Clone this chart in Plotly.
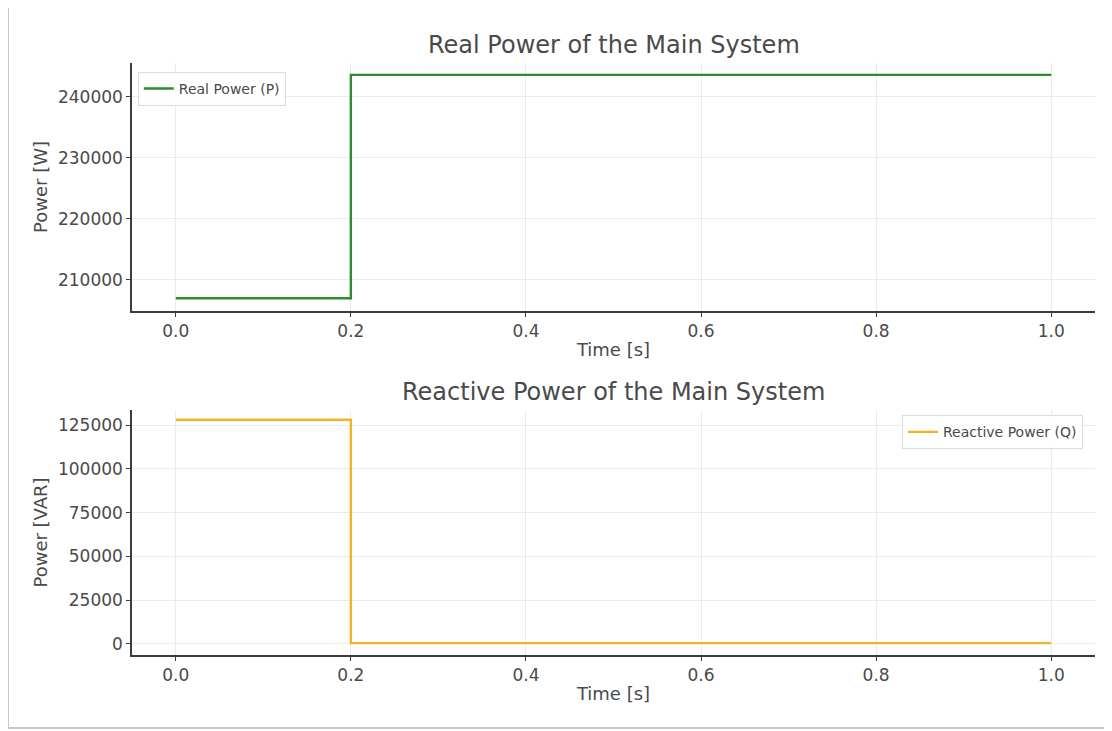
import plotly.graph_objects as go

# Data
time_s = [0.0, 0.2, 1.0]
real_power_w = [207000, 243600, 243600]
reactive_power_var = [128000, 500, 500]
x_ticks = [0.0, 0.2, 0.4, 0.6, 0.8, 1.0]
x_tick_labels = ["0.0", "0.2", "0.4", "0.6", "0.8", "1.0"]
p_ticks = [210000, 220000, 230000, 240000]
q_ticks = [0, 25000, 50000, 75000, 100000, 125000]

FONT = "DejaVu Sans"
TXT = "#4a4a4a"
GRID = "#ebebeb"
SPINE = "#3c3c3c"

fig = go.Figure()
fig.add_trace(go.Scatter(x=time_s, y=real_power_w, mode="lines", line_shape="hv",
                         line=dict(color="#2e8b2e", width=2.4), name="Real Power (P)",
                         xaxis="x", yaxis="y", legend="legend", showlegend=True))
fig.add_trace(go.Scatter(x=time_s, y=reactive_power_var, mode="lines", line_shape="hv",
                         line=dict(color="#f4b324", width=2.4), name="Reactive Power (Q)",
                         xaxis="x2", yaxis="y2", legend="legend2", showlegend=True))

ax_common = dict(showline=True, linecolor=SPINE, linewidth=1.5, ticks="outside",
                 ticklen=4, tickcolor=SPINE, tickwidth=1, showgrid=True, gridcolor=GRID,
                 gridwidth=1, zeroline=False, tickfont=dict(family=FONT, size=17, color=TXT),
                 mirror=False)

title_font = dict(family=FONT, size=18, color=TXT)

fig.update_layout(
    width=1112, height=731,
    margin=dict(l=124, r=25, t=55, b=84),
    paper_bgcolor="white", plot_bgcolor="white",
    font=dict(family=FONT, color=TXT),
    showlegend=True,
    xaxis=dict(domain=[0, 1], anchor="y", range=[-0.05, 1.05], tickvals=x_ticks,
               ticktext=x_tick_labels,
               title=dict(text="Time [s]", font=title_font, standoff=3),
               **ax_common),
    yaxis=dict(domain=[0.581, 1.0], anchor="x", range=[204900, 245550], tickvals=p_ticks,
               tickformat="d",
               title=dict(text="Power [W]", font=title_font, standoff=6),
               **ax_common),
    xaxis2=dict(domain=[0, 1], anchor="y2", range=[-0.05, 1.05], tickvals=x_ticks,
                ticktext=x_tick_labels,
                title=dict(text="Time [s]", font=title_font, standoff=3),
                **ax_common),
    yaxis2=dict(domain=[0.0, 0.4139], anchor="x2", range=[-6300, 133600], tickvals=q_ticks,
                tickformat="d",
                title=dict(text="Power [VAR]", font=title_font, standoff=6),
                **ax_common),
    legend=dict(x=0.006, y=0.985, xanchor="left", yanchor="top",
                bgcolor="rgba(255,255,255,0.85)", bordercolor="#dcdcdc", borderwidth=1,
                font=dict(family=FONT, size=14, color=TXT)),
    legend2=dict(x=0.9875, y=0.405, xanchor="right", yanchor="top",
                 bgcolor="rgba(255,255,255,0.85)", bordercolor="#dcdcdc", borderwidth=1,
                 font=dict(family=FONT, size=14, color=TXT)),
    annotations=[
        dict(text="Real Power of the Main System", xref="paper", yref="paper",
             x=0.5, y=1.030, xanchor="center", yanchor="middle", showarrow=False,
             font=dict(family=FONT, size=24, color=TXT)),
        dict(text="Reactive Power of the Main System", xref="paper", yref="paper",
             x=0.5, y=0.444, xanchor="center", yanchor="middle", showarrow=False,
             font=dict(family=FONT, size=24, color=TXT)),
    ],
    shapes=[
        dict(type="rect", xref="paper", yref="paper", x0=-0.1288, x1=1.02, y0=-0.1233, y1=1.0946,
             line=dict(color="#c8c8c8", width=2), fillcolor="rgba(0,0,0,0)", layer="below"),
    ],
)

fig.write_html("out.html")
